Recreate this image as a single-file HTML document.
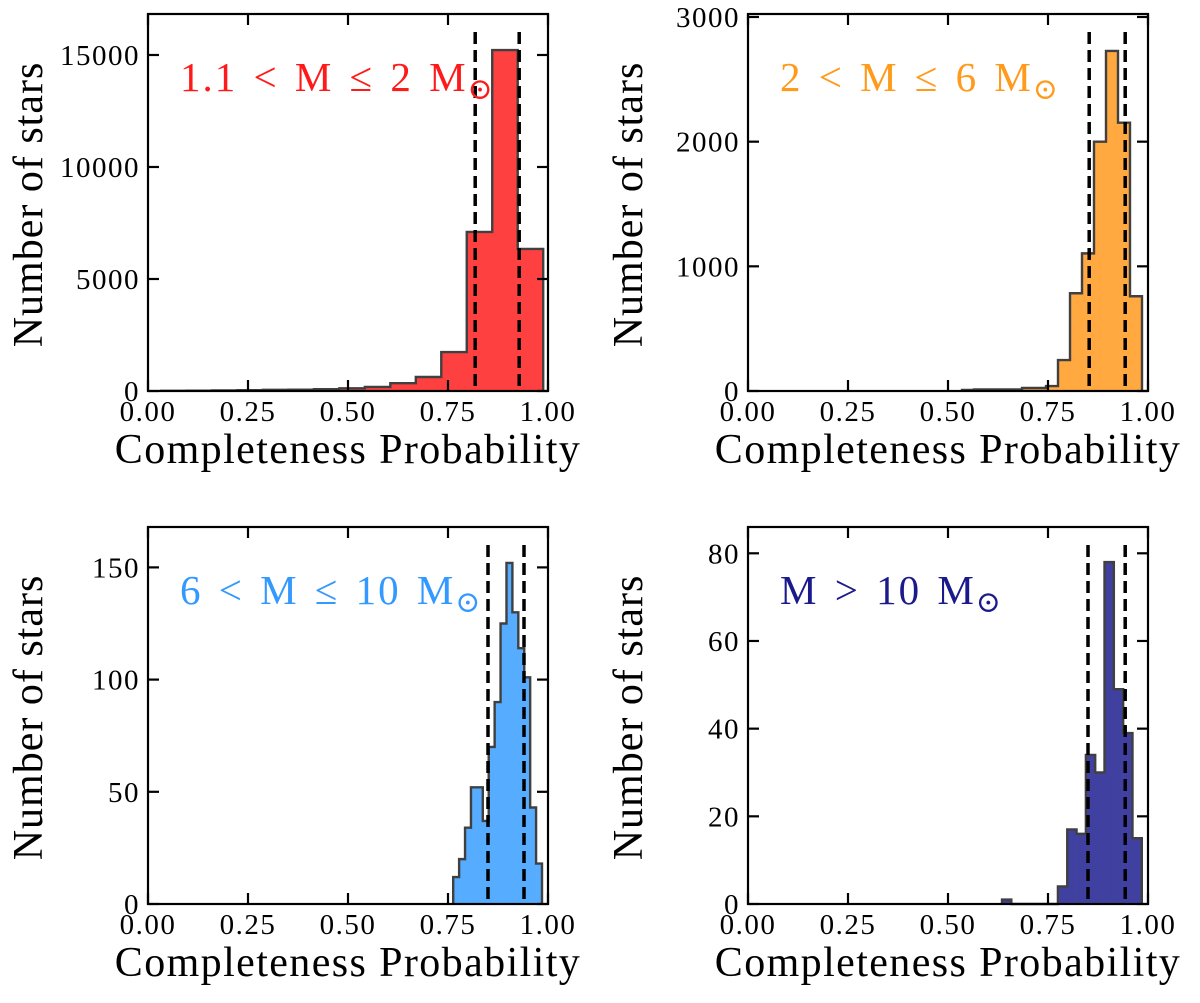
<!DOCTYPE html>
<html><head><meta charset="utf-8">
<style>
html,body{margin:0;padding:0;background:#fff;}
svg{display:block;font-family:"Liberation Serif","DejaVu Serif",serif;}
</style></head>
<body>
<svg id="fig" width="1200" height="1003" viewBox="0 0 1200 1003"></svg>
<script>
// ---- data ----
const tlBinStart = 0.0325, tlBinWidth = 0.0637;
const tlCounts = [10,15,25,35,50,60,80,120,180,350,625,1740,7100,15220,6340];
const tlYTicks = [0,5000,10000,15000];
const tlYMax = 16830;
const tlLines = [0.818,0.928];

const trBinStart = 0.535, trBinWidth = 0.03;
const trCounts = [8,12,12,12,12,24,24,40,248,784,1104,2000,2728,2152,760];
const trYTicks = [0,1000,2000,3000];
const trYMax = 3024;
const trLines = [0.853,0.943];

const blBinStart = 0.763, blBinWidth = 0.0148;
const blCounts = [12,20,34,52,52,37,70,90,125,152,130,114,101,43,18];
const blYTicks = [0,50,100,150];
const blYMax = 168;
const blLines = [0.85,0.94];

const brBinStart = 0.635, brBinWidth = 0.0233;
const brCounts = [1,0,0,0,0,0,4,17,16,34,30,78,49,39,15];
const brYTicks = [0,20,40,60,80];
const brYMax = 86;
const brLines = [0.85,0.943];

const xTicks = [0,0.25,0.5,0.75,1.0];
const xTickLabels = ["0.00","0.25","0.50","0.75","1.00"];

const NS = "http://www.w3.org/2000/svg";
const svg = document.getElementById('fig');
function mk(tag, attrs, parent){
  const e = document.createElementNS(NS, tag);
  for (const k in attrs) e.setAttribute(k, attrs[k]);
  (parent||svg).appendChild(e);
  return e;
}

function panel(id, x0, y0, counts, binStart, binWidth, yMax, yTicks, lines, fill, labelText, labelColor, labelX){
  const W = 400, H = 377;
  const g = mk('g', {});
  
  
  const sx = v => x0 + v * W;
  const sy = v => y0 + H - v / yMax * H;
  let d = 'M' + sx(binStart) + ' ' + sy(0);
  counts.forEach((c, i) => {
    const a = binStart + i * binWidth, b = a + binWidth;
    const r = mk('rect', {x: sx(a), y: sy(c), width: sx(b) - sx(a) + 0.3, height: sy(0) - sy(c), fill: fill}, g);
    
    
    d += ' L' + sx(a) + ' ' + sy(c) + ' L' + sx(b) + ' ' + sy(c);
  });
  d += ' L' + sx(binStart + counts.length * binWidth) + ' ' + sy(0);
  const outline = mk('path', {d: d, fill: 'none', stroke: '#404040', 'stroke-width': 2.4}, g);
  
  
  lines.forEach((v, i) => {
    const l = mk('line', {x1: sx(v), x2: sx(v), y1: y0 + 18, y2: y0 + H, stroke: '#000', 'stroke-width': 3.5, 'stroke-dasharray': '12,6'}, g);
    
    
  });
  const f = mk('rect', {x: x0, y: y0, width: W, height: H, fill: 'none', stroke: '#000', 'stroke-width': 2.2}, g);
  
  
  xTicks.forEach((v, i) => {
    mk('line', {x1: sx(v), x2: sx(v), y1: y0 + H, y2: y0 + H - 11, stroke: '#000', 'stroke-width': 2.2}, g);
    mk('line', {x1: sx(v), x2: sx(v), y1: y0, y2: y0 + 11, stroke: '#000', 'stroke-width': 2.2}, g);
    const t = mk('text', {x: sx(v), y: y0 + H + 30, 'font-size': 29, 'letter-spacing': 1.5, 'text-anchor': 'middle', fill: '#000'}, g);
    t.textContent = xTickLabels[i];
    
    
  });
  yTicks.forEach(v => {
    mk('line', {x1: x0, x2: x0 + 11, y1: sy(v), y2: sy(v), stroke: '#000', 'stroke-width': 2.2}, g);
    mk('line', {x1: x0 + W, x2: x0 + W - 11, y1: sy(v), y2: sy(v), stroke: '#000', 'stroke-width': 2.2}, g);
    const t = mk('text', {x: x0 - 8, y: sy(v) + 10, 'font-size': 29, 'letter-spacing': 1.5, 'text-anchor': 'end', fill: '#000'}, g);
    t.textContent = String(v);
    
    
  });
  const xl = mk('text', {x: x0 + W / 2, y: y0 + H + 72, 'font-size': 42, 'letter-spacing': 1.4, 'text-anchor': 'middle', fill: '#000'}, g);
  xl.textContent = 'Completeness Probability';
  
  
  const yl = mk('text', {x: 0, y: 0, 'font-size': 42, 'letter-spacing': 1.0, 'text-anchor': 'middle', fill: '#000', transform: 'translate(' + (x0 - 106) + ',' + (y0 + H / 2 + 2) + ') rotate(-90)'}, g);
  yl.textContent = 'Number of stars';
  
  
  const an = mk('text', {x: labelX, y: y0 + 77, 'font-size': 41, 'letter-spacing': 2, 'word-spacing': 4, fill: labelColor}, g);
  
  
  const main = mk('tspan', {}, an);
  main.textContent = labelText + ' M';
  const sun = mk('tspan', {'font-size': 30, dy: 8}, an);
  sun.textContent = '\u2299';
}

panel('top-left', 148, 14, tlCounts, tlBinStart, tlBinWidth, tlYMax, tlYTicks, tlLines, '#ff4040', '1.1 < M ≤ 2', '#ff1a1a', 180);
panel('top-right', 748, 14, trCounts, trBinStart, trBinWidth, trYMax, trYTicks, trLines, '#ffa940', '2 < M ≤ 6', '#ff9a1a', 780);
panel('bottom-left', 148, 527, blCounts, blBinStart, blBinWidth, blYMax, blYTicks, blLines, '#56acff', '6 < M ≤ 10', '#3399ff', 180);
panel('bottom-right', 748, 527, brCounts, brBinStart, brBinWidth, brYMax, brYTicks, brLines, '#4040a0', 'M > 10', '#1a1a8c', 780);
</script>
</body></html>
